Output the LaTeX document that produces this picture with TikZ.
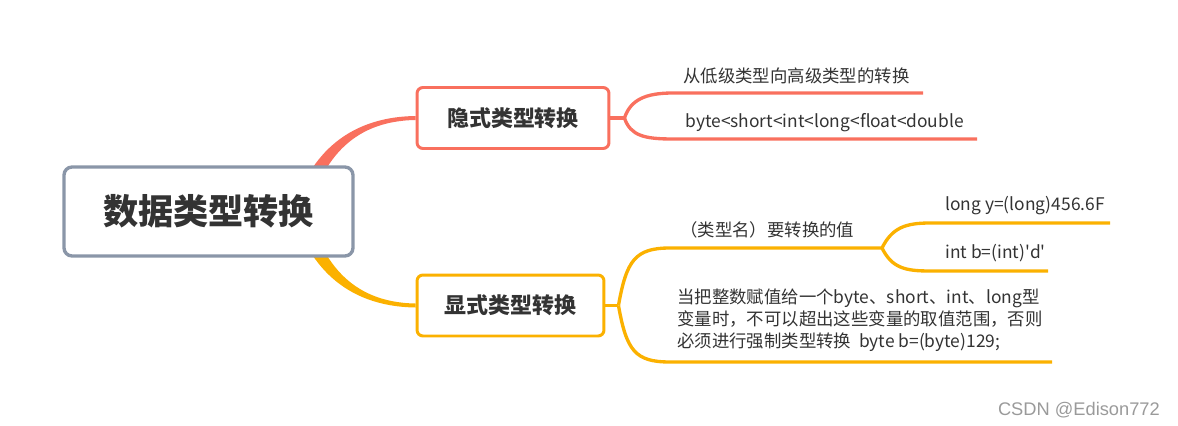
\documentclass[tikz,border=0pt]{standalone}
\usepackage{fontspec}
\setmainfont{Noto Sans CJK SC}
\newfontfamily\wmfont{Liberation Sans}
\usetikzlibrary{backgrounds}

\definecolor{rootgray}{HTML}{8A96A8}
\definecolor{implred}{HTML}{F9705E}
\definecolor{explorange}{HTML}{FBB100}
\definecolor{textdark}{HTML}{333333}
\definecolor{markgray}{HTML}{9A9A9A}

\begin{document}
\begin{tikzpicture}[
    x=0.02cm, y=-0.02cm,
    every node/.style={text=textdark},
    rootbox/.style={draw=rootgray, line width=1.9pt, fill=white, rounded corners=0.16cm,
        minimum width=5.78cm, minimum height=1.78cm, font=\fontsize{20}{24}\selectfont\bfseries},
    topicbox/.style={line width=1.7pt, fill=white, rounded corners=0.12cm,
        minimum height=1.22cm, font=\fontsize{12.5}{15}\selectfont\bfseries},
    leaf/.style={anchor=west, inner sep=0pt, font=\fontsize{9.9}{12.5}\selectfont},
    branch/.style={line width=1.9pt},
]
\useasboundingbox (0,0) rectangle (1178,426);

% === Central topic ===
\node[rootbox] (root) at (208.5,211.5) {数据类型转换};

% === Main topics ===
\node[topicbox, draw=implred, minimum width=3.84cm] (implicit) at (513,118) {隐式类型转换};
\node[topicbox, draw=explorange, minimum width=3.74cm] (explicit) at (510.5,305.5) {显式类型转换};

% === Leaf texts ===
\node[leaf] (lowhigh) at (683,76) {从低级类型向高级类型的转换};
\node[leaf] (order) at (685,122.5) {byte<short<int<long<float<double};
\node[leaf] (syntax) at (680,230) {（类型名）要转换的值};
\node[leaf] (longcast) at (945,205.5) {long y=(long)456.6F};
\node[leaf] (intcast) at (945,253.5) {int b=(int)\textquotesingle d\textquotesingle};
\node[leaf, align=left] (narrow) at (677,320.5)
    {当把整数赋值给一个byte、short、int、long型\\
     变量时，不可以超出这些变量的取值范围，否则\\
     必须进行强制类型转换~~byte b=(byte)129;};

% === Root branches (tapered, behind the boxes) ===
\begin{scope}[on background layer]
\fill[implred] ([shift={(-63,3.5)}]root.east) .. controls +(15,-55) and +(-72,1) .. ([yshift=0.04cm]implicit.west)
    -- ([yshift=-0.04cm]implicit.west) .. controls +(-67,1) and +(13,-50) .. ([shift={(-47,3.5)}]root.east) -- cycle;
\fill[explorange] ([shift={(-63,-3.5)}]root.east) .. controls +(15,55) and +(-72,-1) .. ([yshift=-0.04cm]explicit.west)
    -- ([yshift=0.04cm]explicit.west) .. controls +(-67,-1) and +(13,50) .. ([shift={(-47,-3.5)}]root.east) -- cycle;
\end{scope}

% === Implicit sub-branches ===
\coordinate (lowhighS) at (673,93);
\coordinate (lowhighE) at (923,93);
\coordinate (orderS) at (673,139);
\coordinate (orderE) at (977,139);
\draw[branch, implred] (implicit.east) -- ++(14,0) coordinate (ifork);
\draw[branch, implred] (ifork) .. controls +(6,-18) and +(-28,0) .. (lowhighS) -- (lowhighE);
\draw[branch, implred] (ifork) .. controls +(6,18) and +(-28,0) .. (orderS) -- (orderE);

% === Explicit sub-branches ===
\coordinate (syntaxS) at (670,248);
\coordinate (sfork) at (882,248);
\coordinate (narrowS) at (670,362);
\coordinate (narrowE) at (1052,362);
\coordinate (longS) at (930,223);
\coordinate (longE) at (1110,223);
\coordinate (intS) at (930,271);
\coordinate (intE) at (1048,271);
\draw[branch, explorange] (explicit.east) -- ++(13,0) coordinate (efork);
\draw[branch, explorange] (efork) .. controls +(8,-45) and +(-35,0) .. (syntaxS) -- (sfork);
\draw[branch, explorange] (efork) .. controls +(8,45) and +(-35,0) .. (narrowS) -- (narrowE);
\draw[branch, explorange] (sfork) .. controls +(10,-20) and +(-25,0) .. (longS) -- (longE);
\draw[branch, explorange] (sfork) .. controls +(10,20) and +(-25,0) .. (intS) -- (intE);

% === Watermark ===
\node[anchor=east, text=markgray, font=\wmfont\fontsize{10.4}{12}\selectfont] (mark) at (1166,410) {CSDN @Edison772};

\end{tikzpicture}
\end{document}
